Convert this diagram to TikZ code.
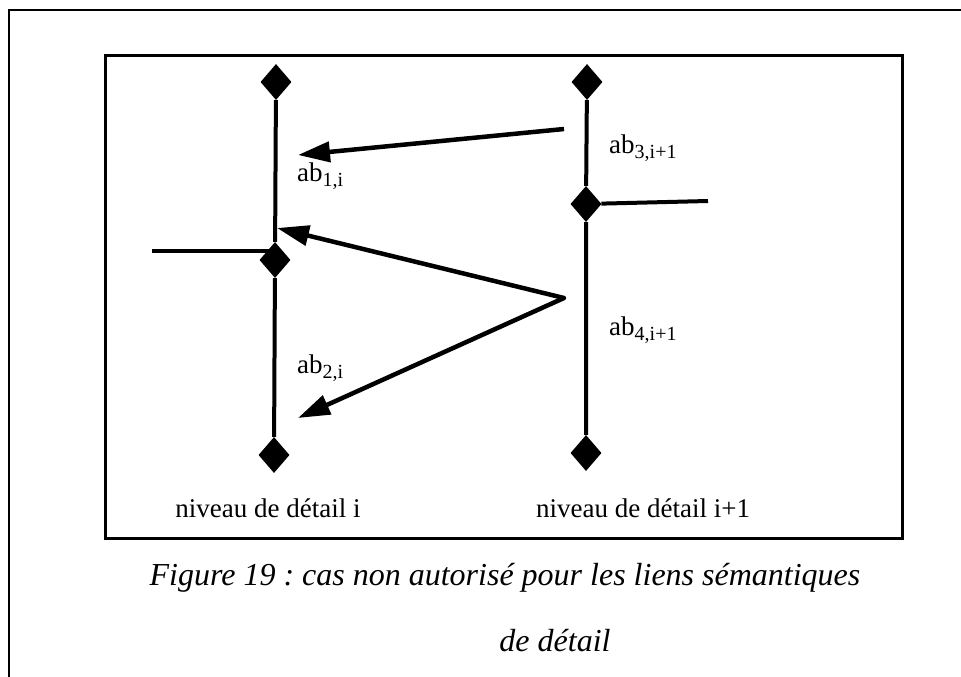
\documentclass[tikz,border=0pt]{standalone}
\usepackage{fontspec}
\setmainfont{Liberation Serif}
\usetikzlibrary{shapes.geometric,arrows.meta}
\tikzset{
  dia/.style={diamond,fill=black,draw=none,inner sep=0pt,minimum width=31pt,minimum height=36pt},
  axisline/.style={line width=4pt},
  link/.style={line width=4.5pt,-{Triangle[length=32pt,width=20pt]}},
  lbl/.style={font=\fontsize{27}{29}\selectfont,inner sep=0pt},
  captxt/.style={font=\fontsize{32}{36}\selectfont\itshape\frenchspacing,inner sep=0pt}
}
\newcommand{\absub}[1]{ab\raisebox{-0.4ex}{\fontsize{20}{20}\selectfont #1}}
\begin{document}
\begin{tikzpicture}[x=1pt,y=-1pt]
\useasboundingbox (0,0) rectangle (961,677);
\fill[white] (0,0) rectangle (961,677);
% frames
\draw[line width=1.8pt] (9,677) -- (9,10) -- (961,10);
\draw[line width=3pt] (105,56) rectangle (902,538);
% diamonds
\node[dia] (lt) at (276,82) {};
\node[dia] (lm) at (275,260) {};
\node[dia] (lb) at (274,455) {};
\node[dia] (rt) at (587,82) {};
\node[dia] (rm) at (586,204) {};
\node[dia] (rb) at (586,453) {};
% axes
\draw[axisline] (lt) -- (lm) -- (lb);
\draw[axisline] (rt) -- (rm) -- (rb);
\coordinate (sl) at (152,251);
\coordinate (slE) at (272,251);
\coordinate (sr) at (708,201);
\draw[axisline] (sl) -- (slE);
\draw[axisline] (rm) -- (sr);
% arrows
\coordinate (a1s) at (564,129);
\coordinate (a1e) at (298,155);
\coordinate (apx) at (564,298);
\coordinate (a2e) at (277,228);
\coordinate (a3e) at (298,418);
\draw[link] (a1s) -- (a1e);
\draw[link] (apx) -- (a2e);
\draw[link] (apx) -- (a3e);
\fill (apx) circle (2.2pt);
% labels
\node[lbl,anchor=west] (l1) at (297,176) {\absub{1,i}};
\node[lbl,anchor=west] (l2) at (297,368) {\absub{2,i}};
\node[lbl,anchor=west] (l3) at (609,148) {\absub{3,i+1}};
\node[lbl,anchor=west] (l4) at (609,330) {\absub{4,i+1}};
\node[lbl] (n1) at (268,508) {niveau de détail i};
\node[lbl] (n2) at (643,508) {niveau de détail i+1};
% caption
\node[captxt] (c1) at (505,578) {Figure 19 : cas non autorisé pour les liens sémantiques};
\node[captxt] (c2) at (555,641) {de détail};
\end{tikzpicture}
\end{document}
